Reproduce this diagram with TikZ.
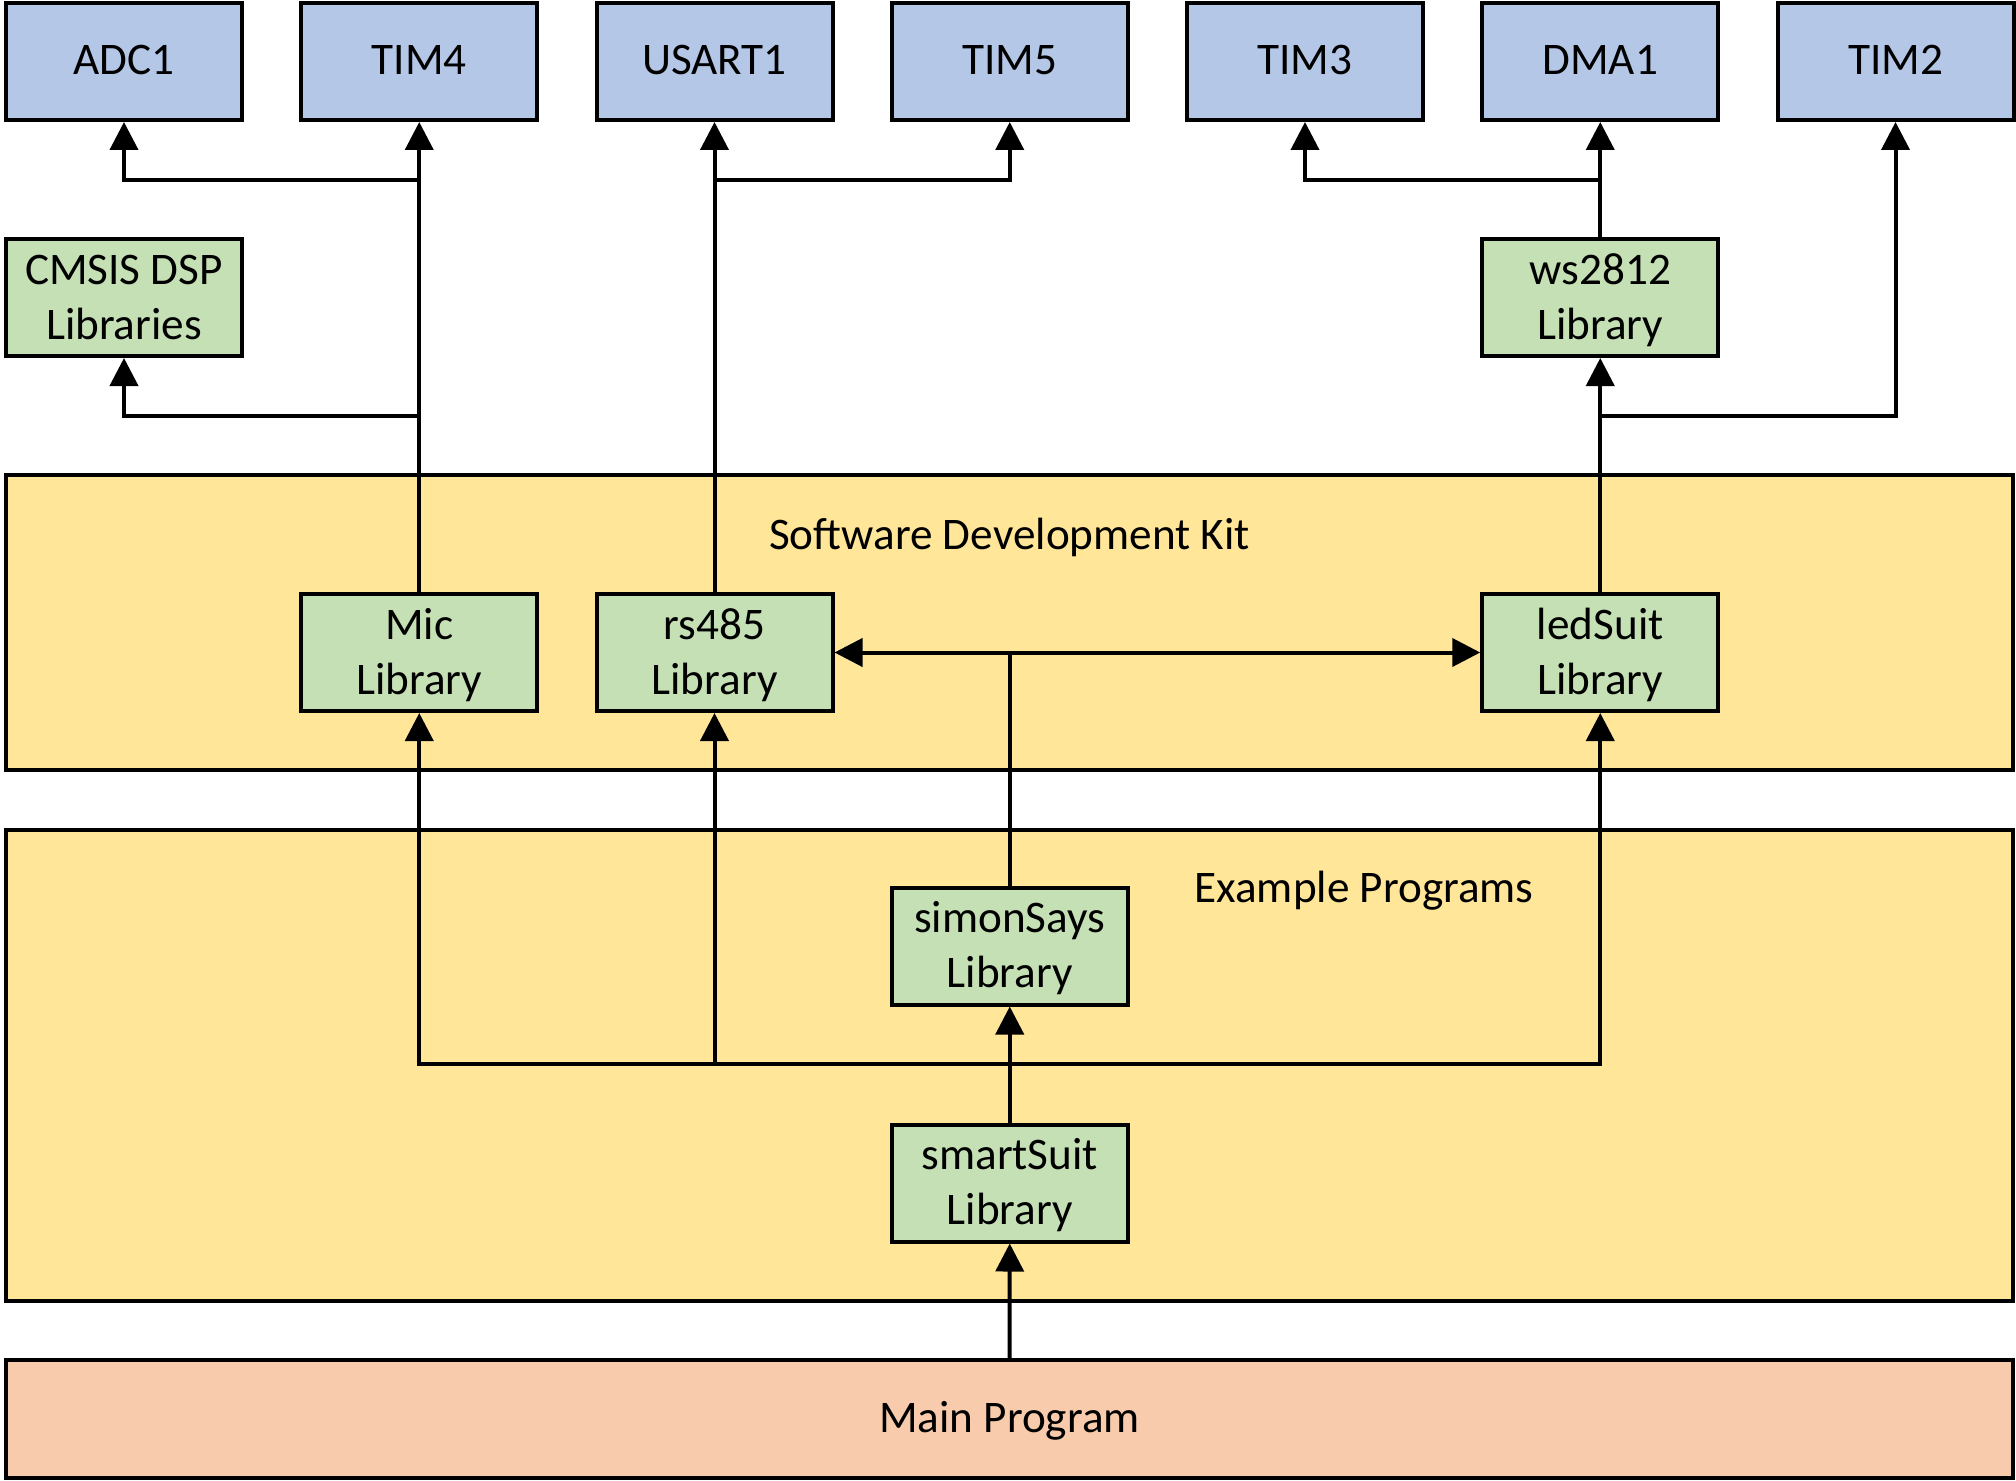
\documentclass[tikz,border=0pt]{standalone}
\usepackage{fontspec}
\setmainfont{Carlito}
\usetikzlibrary{arrows.meta}
\definecolor{hwblue}{HTML}{B4C7E7}
\definecolor{libgreen}{HTML}{C5E0B4}
\definecolor{kityellow}{HTML}{FFE699}
\definecolor{mainorange}{HTML}{F8CBAD}
\tikzset{
  lineone/.style={text height=19.3pt, text depth=5.8pt},
  linetwo/.style={text height=47.8pt, text depth=6pt},
  box/.style={draw=black, line width=2pt, rectangle, inner sep=0pt,
    minimum width=118pt, minimum height=58.5pt, align=center,
    font=\fontsize{22.6}{27.6}\selectfont},
  hwbox/.style={box, fill=hwblue, lineone},
  libbox/.style={box, fill=libgreen, linetwo},
  bigbox/.style={draw=black, line width=2pt, rectangle, inner sep=0pt,
    minimum width=1003.5pt, align=center,
    font=\fontsize{22.6}{27.6}\selectfont},
  lbl/.style={inner sep=0pt, font=\fontsize{22.6}{27.6}\selectfont},
  arr/.style={line width=2pt, -{Triangle[length=14pt,width=14pt]}},
  conn/.style={line width=2pt}
}
\begin{document}
\begin{tikzpicture}[x=0.5pt,y=-0.5pt]
\useasboundingbox (0,0) rectangle (2016,1481);
% large areas
\node[bigbox, fill=kityellow, minimum height=147.5pt] (sdk) at (1009.5,622.5) {};
\node[bigbox, fill=kityellow, minimum height=235.5pt] (ex) at (1009.5,1065.5) {};
\node[bigbox, fill=mainorange, minimum height=59pt, lineone] (main) at (1009.5,1419) {Main Program};
\node[lbl] (sdklbl) at (1009.5,537.5) {Software Development Kit};
\node[lbl] (exlbl) at (1364,891) {Example Programs};
% hardware row
\node[hwbox] (adc) at (124,61.5) {ADC1};
\node[hwbox] (tim4) at (419.25,61.5) {TIM4};
\node[hwbox] (usart) at (714.5,61.5) {USART1};
\node[hwbox] (tim5) at (1009.75,61.5) {TIM5};
\node[hwbox] (tim3) at (1305,61.5) {TIM3};
\node[hwbox] (dma) at (1600.25,61.5) {DMA1};
\node[hwbox] (tim2) at (1895.5,61.5) {TIM2};
% second row
\node[libbox] (cmsis) at (124,297.5) {CMSIS DSP\\Libraries};
\node[libbox] (ws) at (1600.25,297.5) {ws2812\\Library};
% SDK libraries
\node[libbox] (mic) at (419.25,652.5) {Mic\\Library};
\node[libbox] (rs) at (714.5,652.5) {rs485\\Library};
\node[libbox] (led) at (1600.25,652.5) {ledSuit\\Library};
% example programs
\node[libbox] (simon) at (1009.75,946) {simonSays\\Library};
\node[libbox] (smart) at (1009.75,1183) {smartSuit\\Library};
% junctions
\coordinate (j1) at (419.25,180);
\coordinate (j2) at (419.25,416);
\coordinate (j3) at (714.5,180);
\coordinate (j4) at (1600.25,416);
\coordinate (j5) at (1600.25,180);
\coordinate (j6) at (1009.75,652.5);
\coordinate (j7) at (1009.75,1064);
% connectors
\draw[arr] (mic.north) -- (tim4.south);
\draw[arr] (j1) -| (adc.south);
\draw[arr] (j2) -| (cmsis.south);
\draw[arr] (rs.north) -- (usart.south);
\draw[arr] (j3) -| (tim5.south);
\draw[arr] (led.north) -- (ws.south);
\draw[arr] (j4) -| (tim2.south);
\draw[arr] (ws.north) -- (dma.south);
\draw[arr] (j5) -| (tim3.south);
\draw[conn] (simon.north) -- (j6);
\draw[arr] (j6) -- (rs.east);
\draw[arr] (j6) -- (led.west);
\draw[arr] (smart.north) -- (simon.south);
\draw[arr] (j7) -| (mic.south);
\draw[arr] (j7) -| (rs.south);
\draw[arr] (j7) -| (led.south);
\draw[arr] (main.north) -- (smart.south);
\end{tikzpicture}
\end{document}
